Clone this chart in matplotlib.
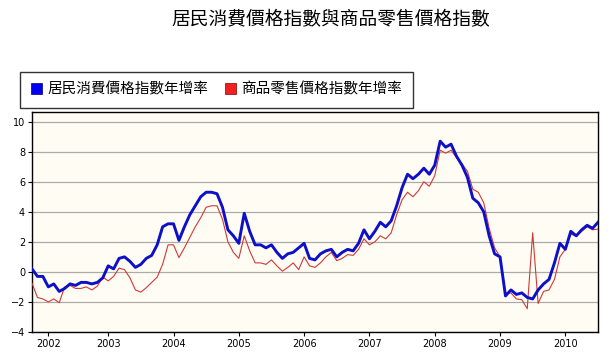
import pandas as pd
import matplotlib
matplotlib.use("Agg")
import matplotlib.pyplot as plt
from matplotlib.patches import Patch

plt.rcParams['font.family'] = ['Noto Sans CJK TC', 'DejaVu Sans']

# monthly categories, Oct 2001 - Jul 2010 (Feb 2002 is missing in the source)
months = pd.date_range('2001-10-01', '2010-07-01', freq='MS')
months = months[~((months.year == 2002) & (months.month == 2))]

# 居民消費價格指數年增率 (%)
cpi = [0.2, -0.3, -0.3,
       -1.0, -0.8, -1.3, -1.1, -0.8, -0.9, -0.7, -0.7, -0.8, -0.7, -0.4,
       0.4, 0.2, 0.9, 1.0, 0.7, 0.3, 0.5, 0.9, 1.1, 1.8, 3.0, 3.2,
       3.2, 2.1, 3.0, 3.8, 4.4, 5.0, 5.3, 5.3, 5.2, 4.3, 2.8, 2.4,
       1.9, 3.9, 2.7, 1.8, 1.8, 1.6, 1.8, 1.3, 0.9, 1.2, 1.3, 1.6,
       1.9, 0.9, 0.8, 1.2, 1.4, 1.5, 1.0, 1.3, 1.5, 1.4, 1.9, 2.8,
       2.2, 2.7, 3.3, 3.0, 3.4, 4.4, 5.6, 6.5, 6.2, 6.5, 6.9, 6.5,
       7.1, 8.7, 8.3, 8.5, 7.7, 7.1, 6.3, 4.9, 4.6, 4.0, 2.4, 1.2,
       1.0, -1.6, -1.2, -1.5, -1.4, -1.7, -1.8, -1.2, -0.8, -0.5, 0.6, 1.9,
       1.5, 2.7, 2.4, 2.8, 3.1, 2.9, 3.3]

# 商品零售價格指數年增率 (%)
rpi = [-0.75, -1.7, -1.8,
       -2.0, -1.8, -2.05, -1.0, -0.9, -1.1, -1.1, -1.0, -1.2, -0.95, -0.35,
       -0.6, -0.3, 0.25, 0.15, -0.4, -1.2, -1.35, -1.05, -0.7, -0.35, 0.5, 1.8,
       1.8, 0.95, 1.6, 2.3, 3.0, 3.6, 4.3, 4.4, 4.4, 3.5, 2.0, 1.3,
       0.9, 2.4, 1.4, 0.6, 0.6, 0.5, 0.8, 0.4, 0.05, 0.3, 0.6, 0.15,
       1.0, 0.4, 0.3, 0.6, 1.0, 1.3, 0.75, 0.9, 1.15, 1.1, 1.5, 2.2,
       1.8, 2.0, 2.4, 2.2, 2.6, 3.8, 4.8, 5.3, 5.0, 5.4, 6.0, 5.7,
       6.4, 8.1, 7.9, 8.1, 7.6, 7.2, 6.7, 5.5, 5.3, 4.6, 2.9, 1.6,
       1.0, -1.4, -1.4, -1.8, -1.85, -2.45, 2.6, -2.1, -1.3, -1.2, -0.5, 1.0,
       1.5, 2.5, 2.4, 2.7, 3.0, 2.8, 2.85]

title = '居民消費價格指數與商品零售價格指數'
names = ['居民消費價格指數年增率', '商品零售價格指數年增率']

x = list(range(len(months)))
tick_pos = [i for i, m in enumerate(months) if m.month == 1]
tick_lab = [str(months[i].year) for i in tick_pos]

fig = plt.figure(figsize=(6.12, 3.59), dpi=100)
ax = fig.add_axes([32 / 612, 1 - 332 / 359, 566 / 612, 220 / 359])
ax.set_facecolor('#FFFDF3')

ax.plot(x, rpi, color='#D03838', linewidth=0.8, zorder=3)
ax.plot(x, cpi, color='#0E10C8', linewidth=2.1, zorder=4)

ax.set_xlim(0, len(months) - 1)
ax.set_ylim(-4, 10.64)
ax.set_yticks(range(-4, 11, 2))
ax.set_xticks(tick_pos)
ax.set_xticklabels(tick_lab)
ax.tick_params(axis='both', labelsize=7, length=3, width=0.8, color='black', pad=2)
for lab in ax.get_xticklabels() + ax.get_yticklabels():
    lab.set_fontfamily('DejaVu Sans')
ax.grid(axis='y', color='#ABABAB', linewidth=0.9)
ax.set_axisbelow(True)
for s in ax.spines.values():
    s.set_color('black')
    s.set_linewidth(1.0)

fig.text(331 / 612, 1 - 20 / 359, title, ha='center', va='center', fontsize=13.5)

handles = [Patch(facecolor='#0000F0', edgecolor='#000080', linewidth=0.5),
           Patch(facecolor='#F02020', edgecolor='#800000', linewidth=0.5)]
leg = fig.legend(handles, names, loc='upper left', bbox_to_anchor=(20 / 612, 1 - 71.7 / 359),
                 ncol=2, fontsize=10.5, frameon=True, fancybox=False, edgecolor='black',
                 handlelength=0.75, handleheight=0.75, handletextpad=0.4, columnspacing=1.1,
                 borderpad=0.75, borderaxespad=0)
leg.get_frame().set_linewidth(1.0)

fig.savefig('out.png', dpi=100)
